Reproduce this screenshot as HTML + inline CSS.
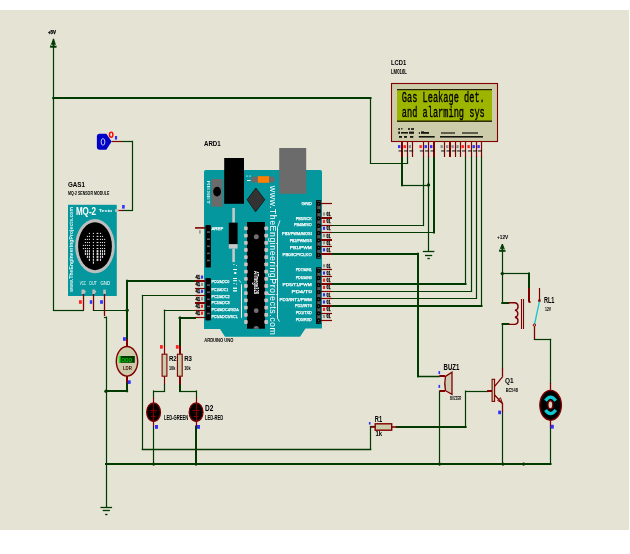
<!DOCTYPE html>
<html><head><meta charset="utf-8"><style>
html,body{margin:0;padding:0;background:#fff;width:630px;height:554px;overflow:hidden}
svg{position:absolute;left:0;top:0;display:block;will-change:transform}
svg{font-family:"Liberation Sans",sans-serif}
</style></head><body>
<svg width="630" height="554" viewBox="0 0 630 554">
<defs><filter id="sh" x="0" y="0" width="630" height="554" filterUnits="userSpaceOnUse" color-interpolation-filters="sRGB">
<feGaussianBlur in="SourceGraphic" stdDeviation="0.7" result="b"/>
<feComposite in="SourceGraphic" in2="b" operator="arithmetic" k1="0" k2="1.5" k3="-0.5" k4="0"/>
</filter></defs>
<g filter="url(#sh)">
<rect x="0" y="10" width="629" height="520" fill="#E4E3D4" />
<line x1="53.5" y1="48" x2="53.5" y2="310" stroke="#003A00" stroke-width="1.2" stroke-linecap="square"/>
<line x1="53.5" y1="310.5" x2="83.4" y2="310.5" stroke="#003A00" stroke-width="1.2" stroke-linecap="square"/>
<line x1="53.5" y1="98.0" x2="370.5" y2="98.0" stroke="#003A00" stroke-width="2.0" stroke-linecap="square"/>
<line x1="370.5" y1="97.8" x2="370.5" y2="163.3" stroke="#003A00" stroke-width="1.2" stroke-linecap="square"/>
<line x1="370.5" y1="163.5" x2="407.5" y2="163.5" stroke="#003A00" stroke-width="1.2" stroke-linecap="square"/>
<line x1="407.5" y1="163.3" x2="407.5" y2="157" stroke="#003A00" stroke-width="1.2" stroke-linecap="square"/>
<line x1="402.0" y1="157" x2="402.0" y2="185.3" stroke="#003A00" stroke-width="2.0" stroke-linecap="square"/>
<line x1="402" y1="185.5" x2="428.6" y2="185.5" stroke="#003A00" stroke-width="1.2" stroke-linecap="square"/>
<line x1="428.5" y1="157" x2="428.5" y2="251" stroke="#003A00" stroke-width="1.2" stroke-linecap="square"/>
<line x1="423.5" y1="157" x2="423.5" y2="225.5" stroke="#003A00" stroke-width="1.2" stroke-linecap="square"/>
<line x1="423.4" y1="225.5" x2="332" y2="225.5" stroke="#003A00" stroke-width="1.2" stroke-linecap="square"/>
<line x1="434.0" y1="157" x2="434.0" y2="232.5" stroke="#003A00" stroke-width="2.0" stroke-linecap="square"/>
<line x1="433.9" y1="232.5" x2="332" y2="232.5" stroke="#003A00" stroke-width="1.2" stroke-linecap="square"/>
<line x1="465.5" y1="157" x2="465.5" y2="283.8" stroke="#003A00" stroke-width="1.2" stroke-linecap="square"/>
<line x1="465.5" y1="284.0" x2="332" y2="284.0" stroke="#003A00" stroke-width="2.0" stroke-linecap="square"/>
<line x1="471.5" y1="157" x2="471.5" y2="291.3" stroke="#003A00" stroke-width="1.2" stroke-linecap="square"/>
<line x1="471.5" y1="291.5" x2="332" y2="291.5" stroke="#003A00" stroke-width="1.2" stroke-linecap="square"/>
<line x1="476.5" y1="157" x2="476.5" y2="298.4" stroke="#003A00" stroke-width="1.2" stroke-linecap="square"/>
<line x1="476.4" y1="298.5" x2="332" y2="298.5" stroke="#003A00" stroke-width="1.2" stroke-linecap="square"/>
<line x1="481.5" y1="157" x2="481.5" y2="305.9" stroke="#003A00" stroke-width="1.2" stroke-linecap="square"/>
<line x1="481.5" y1="306.0" x2="332" y2="306.0" stroke="#003A00" stroke-width="2.0" stroke-linecap="square"/>
<line x1="332" y1="254.0" x2="417.9" y2="254.0" stroke="#003A00" stroke-width="2.0" stroke-linecap="square"/>
<line x1="418.0" y1="253.8" x2="418.0" y2="376.2" stroke="#003A00" stroke-width="2.0" stroke-linecap="square"/>
<line x1="417.9" y1="376.5" x2="439" y2="376.5" stroke="#003A00" stroke-width="1.5" stroke-linecap="square"/>
<line x1="195" y1="281.0" x2="127.1" y2="281.0" stroke="#003A00" stroke-width="2.0" stroke-linecap="square"/>
<line x1="127.0" y1="280.7" x2="127.0" y2="339" stroke="#003A00" stroke-width="2.0" stroke-linecap="square"/>
<line x1="93.4" y1="310.5" x2="127.1" y2="310.5" stroke="#003A00" stroke-width="1.2" stroke-linecap="square"/>
<line x1="195" y1="295.5" x2="142.5" y2="295.5" stroke="#003A00" stroke-width="1.2" stroke-linecap="square"/>
<line x1="142.5" y1="295.5" x2="142.5" y2="449" stroke="#003A00" stroke-width="1.2" stroke-linecap="square"/>
<line x1="142.5" y1="449.5" x2="370.5" y2="449.5" stroke="#003A00" stroke-width="1.6" stroke-linecap="square"/>
<line x1="370.5" y1="449" x2="370.5" y2="426.8" stroke="#003A00" stroke-width="1.2" stroke-linecap="square"/>
<line x1="370.5" y1="426.5" x2="375" y2="426.5" stroke="#003A00" stroke-width="1.2" stroke-linecap="square"/>
<line x1="195" y1="310.5" x2="164.4" y2="310.5" stroke="#003A00" stroke-width="1.2" stroke-linecap="square"/>
<line x1="164.5" y1="310.2" x2="164.5" y2="346" stroke="#003A00" stroke-width="1.2" stroke-linecap="square"/>
<line x1="195" y1="318.0" x2="179.6" y2="318.0" stroke="#003A00" stroke-width="2.0" stroke-linecap="square"/>
<line x1="180.0" y1="317.6" x2="180.0" y2="346" stroke="#003A00" stroke-width="2.0" stroke-linecap="square"/>
<line x1="164.5" y1="384.4" x2="164.5" y2="391" stroke="#003A00" stroke-width="1.2" stroke-linecap="square"/>
<line x1="164.5" y1="391.5" x2="153.6" y2="391.5" stroke="#003A00" stroke-width="1.2" stroke-linecap="square"/>
<line x1="153.5" y1="391" x2="153.5" y2="397.8" stroke="#003A00" stroke-width="1.2" stroke-linecap="square"/>
<line x1="180.0" y1="384.4" x2="180.0" y2="391" stroke="#003A00" stroke-width="2.0" stroke-linecap="square"/>
<line x1="179.8" y1="391.5" x2="196.1" y2="391.5" stroke="#003A00" stroke-width="1.2" stroke-linecap="square"/>
<line x1="196.5" y1="391" x2="196.5" y2="397.8" stroke="#003A00" stroke-width="1.2" stroke-linecap="square"/>
<line x1="153.5" y1="426.6" x2="153.5" y2="464" stroke="#003A00" stroke-width="1.2" stroke-linecap="square"/>
<line x1="196.0" y1="426.6" x2="196.0" y2="464" stroke="#003A00" stroke-width="2.0" stroke-linecap="square"/>
<line x1="106" y1="464.0" x2="550.5" y2="464.0" stroke="#003A00" stroke-width="2.0" stroke-linecap="square"/>
<line x1="550.5" y1="464" x2="550.5" y2="427.7" stroke="#003A00" stroke-width="1.2" stroke-linecap="square"/>
<line x1="104.5" y1="317.5" x2="106.2" y2="317.5" stroke="#003A00" stroke-width="1.2" stroke-linecap="square"/>
<line x1="106.5" y1="317.2" x2="106.5" y2="507" stroke="#003A00" stroke-width="1.2" stroke-linecap="square"/>
<line x1="127.0" y1="382.7" x2="127.0" y2="391.3" stroke="#003A00" stroke-width="2.0" stroke-linecap="square"/>
<line x1="127.1" y1="391.0" x2="106.2" y2="391.0" stroke="#003A00" stroke-width="2.0" stroke-linecap="square"/>
<line x1="439.5" y1="391.1" x2="439.5" y2="464" stroke="#003A00" stroke-width="1.2" stroke-linecap="square"/>
<line x1="396.8" y1="427.0" x2="465.6" y2="427.0" stroke="#003A00" stroke-width="2.0" stroke-linecap="square"/>
<line x1="465.5" y1="426.8" x2="465.5" y2="391.1" stroke="#003A00" stroke-width="1.2" stroke-linecap="square"/>
<line x1="465.6" y1="391.5" x2="487.8" y2="391.5" stroke="#003A00" stroke-width="1.2" stroke-linecap="square"/>
<line x1="502.5" y1="412.1" x2="502.5" y2="464" stroke="#003A00" stroke-width="1.2" stroke-linecap="square"/>
<line x1="502.5" y1="367.9" x2="502.5" y2="324.4" stroke="#003A00" stroke-width="1.2" stroke-linecap="square"/>
<line x1="502.6" y1="324.0" x2="508.3" y2="324.0" stroke="#003A00" stroke-width="2.0" stroke-linecap="square"/>
<line x1="502.5" y1="251.5" x2="502.5" y2="302.8" stroke="#003A00" stroke-width="1.2" stroke-linecap="square"/>
<line x1="502.3" y1="303.0" x2="508.3" y2="303.0" stroke="#003A00" stroke-width="2.0" stroke-linecap="square"/>
<line x1="502.3" y1="273.5" x2="529" y2="273.5" stroke="#003A00" stroke-width="1.2" stroke-linecap="square"/>
<line x1="529.0" y1="273.6" x2="529.0" y2="288" stroke="#003A00" stroke-width="2.0" stroke-linecap="square"/>
<line x1="534.4" y1="339.5" x2="550.6" y2="339.5" stroke="#003A00" stroke-width="1.2" stroke-linecap="square"/>
<line x1="550.5" y1="339.4" x2="550.5" y2="383" stroke="#003A00" stroke-width="1.2" stroke-linecap="square"/>
<line x1="122" y1="141.5" x2="132.3" y2="141.5" stroke="#003A00" stroke-width="1.2" stroke-linecap="square"/>
<line x1="132.5" y1="141.4" x2="132.5" y2="210.4" stroke="#003A00" stroke-width="1.2" stroke-linecap="square"/>
<line x1="132.3" y1="210.5" x2="123" y2="210.5" stroke="#003A00" stroke-width="1.2" stroke-linecap="square"/>
<circle cx="428.5" cy="185" r="1.7" fill="#003A00"/>
<circle cx="127.1" cy="310.3" r="1.7" fill="#003A00"/>
<circle cx="502.3" cy="273.6" r="1.7" fill="#003A00"/>
<circle cx="106" cy="391.3" r="1.7" fill="#003A00"/>
<rect x="152.79999999999998" y="462.5" width="1.6" height="3.2" fill="#003A00" />
<rect x="195.2" y="462.5" width="1.6" height="3.2" fill="#003A00" />
<rect x="438.8" y="462.5" width="1.6" height="3.2" fill="#003A00" />
<rect x="502.09999999999997" y="462.5" width="1.6" height="3.2" fill="#003A00" />
<rect x="522.8000000000001" y="462.5" width="1.6" height="3.2" fill="#003A00" />
<rect x="52.5" y="97" width="1.5" height="2.2" fill="#003A00" />
<path d="M53.5,38.9 L56.3,47.2 H50.3 Z" fill="#003A00" stroke="#003A00" stroke-width="0.9"/>
<rect x="51.2" y="44.6" width="1.3" height="1.3" fill="#E4E3D4" />
<rect x="54.5" y="44.6" width="1.3" height="1.3" fill="#E4E3D4" />
<line x1="53.5" y1="38.9" x2="53.5" y2="48" stroke="#003A00" stroke-width="1.2" stroke-linecap="butt"/>
<text x="47.9" y="33.8" font-size="4.6" fill="#000" textLength="8.1" lengthAdjust="spacingAndGlyphs" font-weight="bold" stroke="#000" stroke-width="0.25">+5V</text>
<path d="M502.3,244 L505.3,251.3 H499.3 Z" fill="#003A00" stroke="#003A00" stroke-width="0.9"/>
<rect x="500.2" y="248.8" width="1.3" height="1.3" fill="#E4E3D4" />
<rect x="503.3" y="248.8" width="1.3" height="1.3" fill="#E4E3D4" />
<line x1="502.5" y1="244" x2="502.5" y2="251.5" stroke="#003A00" stroke-width="1.2" stroke-linecap="butt"/>
<text x="497" y="238.8" font-size="6" fill="#000" textLength="11.3" lengthAdjust="spacingAndGlyphs" font-weight="bold" >+12V</text>
<line x1="422.8" y1="251.5" x2="434.40000000000003" y2="251.5" stroke="#003A00" stroke-width="1.3" stroke-linecap="butt"/>
<line x1="425.0" y1="255.5" x2="432.20000000000005" y2="255.5" stroke="#003A00" stroke-width="1.3" stroke-linecap="butt"/>
<line x1="427.40000000000003" y1="258.5" x2="429.8" y2="258.5" stroke="#003A00" stroke-width="1.3" stroke-linecap="butt"/>
<line x1="100.5" y1="507.5" x2="112.1" y2="507.5" stroke="#003A00" stroke-width="1.3" stroke-linecap="butt"/>
<line x1="102.7" y1="510.5" x2="109.89999999999999" y2="510.5" stroke="#003A00" stroke-width="1.3" stroke-linecap="butt"/>
<line x1="105.1" y1="514.5" x2="107.5" y2="514.5" stroke="#003A00" stroke-width="1.3" stroke-linecap="butt"/>
<text x="391" y="65.2" font-size="8" fill="#000" textLength="15.3" lengthAdjust="spacingAndGlyphs" font-weight="bold" >LCD1</text>
<text x="391" y="74" font-size="6.5" fill="#000" textLength="15.9" lengthAdjust="spacingAndGlyphs" font-weight="bold" >LM016L</text>
<rect x="391.5" y="83.5" width="106" height="58" fill="#CDCCAA" stroke="#800000" stroke-width="1.1" />
<rect x="397" y="89" width="95" height="32.5" fill="#9EB500" />
<rect x="397" y="89" width="95" height="1.2" fill="#202000" />
<rect x="397" y="120.5" width="95" height="1.4" fill="#202000" />
<g style="font-family:'Liberation Mono',monospace;font-size:14px;font-weight:normal" fill="#000" stroke="#000" stroke-width="0.35">
<text x="401.8" y="101.8" textLength="83" lengthAdjust="spacingAndGlyphs">Gas Leakage det.</text>
<text x="401.8" y="116.8" textLength="83" lengthAdjust="spacingAndGlyphs">and alarming sys</text>
</g>
<g fill="#000" fill-opacity="0.9">
<rect x="398.2" y="128.2" width="1.8" height="1.6" fill="#000" />
<rect x="401" y="128.2" width="1.5" height="1.2" fill="#000" />
<rect x="408" y="128.2" width="2" height="1.6" fill="#000" />
<rect x="411" y="128.2" width="3" height="1.6" fill="#000" />
<rect x="398.2" y="131.6" width="1.8" height="2.2" fill="#000" />
<rect x="401" y="132" width="7" height="1.6" fill="#000" />
<rect x="409" y="131.6" width="5" height="2.2" fill="#000" />
<rect x="418.8" y="132.2" width="1.2" height="1.6" fill="#000" />
<rect x="421" y="131.4" width="3" height="2.4" fill="#000" />
<rect x="424" y="132" width="5" height="1.8" fill="#000" />
<rect x="399" y="136" width="3" height="1.8" fill="#000" />
<rect x="404" y="136" width="3" height="1.8" fill="#000" />
<rect x="410" y="136" width="3.3" height="1.8" fill="#000" />
<rect x="418.8" y="136" width="15.9" height="1.6" fill="#000" />
<rect x="441" y="132.4" width="14" height="1.2" fill="#000" />
<rect x="462" y="132.4" width="16" height="1.2" fill="#000" />
<rect x="440" y="136" width="43" height="1.6" fill="#000" />
</g>
<line x1="402.0" y1="142" x2="402.0" y2="157" stroke="#800000" stroke-width="2" stroke-linecap="butt"/>
<line x1="407.5" y1="142" x2="407.5" y2="157" stroke="#800000" stroke-width="1.2" stroke-linecap="butt"/>
<line x1="412.5" y1="142" x2="412.5" y2="157" stroke="#800000" stroke-width="1.2" stroke-linecap="butt"/>
<line x1="423.5" y1="142" x2="423.5" y2="157" stroke="#800000" stroke-width="1.2" stroke-linecap="butt"/>
<line x1="428.5" y1="142" x2="428.5" y2="157" stroke="#800000" stroke-width="1.2" stroke-linecap="butt"/>
<line x1="434.0" y1="142" x2="434.0" y2="157" stroke="#800000" stroke-width="2" stroke-linecap="butt"/>
<line x1="444.5" y1="142" x2="444.5" y2="157" stroke="#800000" stroke-width="1.2" stroke-linecap="butt"/>
<line x1="450.0" y1="142" x2="450.0" y2="157" stroke="#800000" stroke-width="2" stroke-linecap="butt"/>
<line x1="455.5" y1="142" x2="455.5" y2="157" stroke="#800000" stroke-width="1.2" stroke-linecap="butt"/>
<line x1="460.5" y1="142" x2="460.5" y2="157" stroke="#800000" stroke-width="1.2" stroke-linecap="butt"/>
<line x1="465.5" y1="142" x2="465.5" y2="157" stroke="#800000" stroke-width="1.2" stroke-linecap="butt"/>
<line x1="471.5" y1="142" x2="471.5" y2="157" stroke="#800000" stroke-width="1.2" stroke-linecap="butt"/>
<line x1="476.5" y1="142" x2="476.5" y2="157" stroke="#800000" stroke-width="1.2" stroke-linecap="butt"/>
<line x1="481.5" y1="142" x2="481.5" y2="157" stroke="#800000" stroke-width="1.2" stroke-linecap="butt"/>
<rect x="398.0" y="145.1" width="2.4" height="3" fill="#3030FF" />
<rect x="403.5" y="145.1" width="2.4" height="3" fill="#FF2020" />
<rect x="408.6" y="145.1" width="2.4" height="3" fill="#909090" />
<rect x="419.4" y="145.1" width="2.4" height="3" fill="#FF2020" />
<rect x="424.5" y="145.1" width="2.4" height="3" fill="#3030FF" />
<rect x="430.0" y="145.1" width="2.4" height="3" fill="#3030FF" />
<rect x="440.5" y="145.1" width="2.4" height="3" fill="#909090" />
<rect x="446.0" y="145.1" width="2.4" height="3" fill="#909090" />
<rect x="451.4" y="145.1" width="2.4" height="3" fill="#909090" />
<rect x="456.3" y="145.1" width="2.4" height="3" fill="#909090" />
<rect x="461.5" y="145.1" width="2.4" height="3" fill="#FF2020" />
<rect x="467.4" y="145.1" width="2.4" height="3" fill="#FF2020" />
<rect x="472.5" y="145.1" width="2.4" height="3" fill="#3030FF" />
<rect x="477.4" y="145.1" width="2.4" height="3" fill="#3030FF" />
<rect x="398.5" y="150.5" width="4" height="0.9" fill="#000" />
<rect x="404.0" y="150.5" width="4" height="0.9" fill="#000" />
<rect x="409.1" y="150.5" width="4" height="0.9" fill="#000" />
<rect x="419.9" y="150.5" width="4" height="0.9" fill="#000" />
<rect x="425.0" y="150.5" width="4" height="0.9" fill="#000" />
<rect x="430.5" y="150.5" width="4" height="0.9" fill="#000" />
<rect x="441.0" y="150.5" width="4" height="0.9" fill="#000" />
<rect x="446.5" y="150.5" width="4" height="0.9" fill="#000" />
<rect x="451.9" y="150.5" width="4" height="0.9" fill="#000" />
<rect x="456.8" y="150.5" width="4" height="0.9" fill="#000" />
<rect x="462.0" y="150.5" width="4" height="0.9" fill="#000" />
<rect x="467.9" y="150.5" width="4" height="0.9" fill="#000" />
<rect x="473.0" y="150.5" width="4" height="0.9" fill="#000" />
<rect x="477.9" y="150.5" width="4" height="0.9" fill="#000" />
<text x="204" y="146" font-size="7.6" fill="#000" textLength="16.7" lengthAdjust="spacingAndGlyphs" font-weight="bold" >ARD1</text>
<path d="M205.8,170 H320.2 Q322,170 322,171.8 V328.6 H305.5 L300,336.8 H225 L220,329 H204 V171.8 Q204,170 205.8,170 Z" fill="#04989E"/>
<rect x="279.2" y="148" width="27" height="45.8" fill="#6B6B6B" />
<rect x="224.2" y="158" width="19.8" height="45.8" fill="#000" />
<rect x="211.3" y="179" width="11.4" height="27.7" fill="#6B6B6B" />
<ellipse cx="217.1" cy="191.6" rx="3.9" ry="4.9" fill="#000"/>
<path d="M252.5,176.4 H273.3 L274.8,177.9 V181.1 L273.3,182.6 H252.5 L251,181.1 V177.9 Z" fill="#6B6B6B"/>
<rect x="257.9" y="176.2" width="11.1" height="6.6" fill="#FF8000" />
<path d="M255.9,188 L264.8,199.7 L255.6,211.8 L247.1,199.7 Z" fill="#333" stroke="#111" stroke-width="0.8"/>
<rect x="232.3" y="208" width="2.6" height="14.7" fill="#C8C8C8" />
<rect x="228.8" y="222.7" width="8.8" height="21.5" fill="#000" />
<rect x="228.8" y="244.2" width="8.8" height="4.4" fill="#C8C8C8" />
<rect x="232.3" y="248.6" width="2.6" height="13.5" fill="#C8C8C8" />
<rect x="247" y="222" width="18" height="106.7" fill="#000" />
<rect x="244.1" y="226.5" width="3.6" height="3.8" fill="#C4C4C4" rx="0.8"/>
<rect x="264.3" y="226.5" width="3.8" height="3.8" fill="#C4C4C4" rx="0.8"/>
<rect x="244.1" y="233.7" width="3.6" height="3.8" fill="#C4C4C4" rx="0.8"/>
<rect x="264.3" y="233.7" width="3.8" height="3.8" fill="#C4C4C4" rx="0.8"/>
<rect x="244.1" y="240.9" width="3.6" height="3.8" fill="#C4C4C4" rx="0.8"/>
<rect x="264.3" y="240.9" width="3.8" height="3.8" fill="#C4C4C4" rx="0.8"/>
<rect x="244.1" y="248.1" width="3.6" height="3.8" fill="#C4C4C4" rx="0.8"/>
<rect x="264.3" y="248.1" width="3.8" height="3.8" fill="#C4C4C4" rx="0.8"/>
<rect x="244.1" y="255.29999999999998" width="3.6" height="3.8" fill="#C4C4C4" rx="0.8"/>
<rect x="264.3" y="255.29999999999998" width="3.8" height="3.8" fill="#C4C4C4" rx="0.8"/>
<rect x="244.1" y="262.5" width="3.6" height="3.8" fill="#C4C4C4" rx="0.8"/>
<rect x="264.3" y="262.5" width="3.8" height="3.8" fill="#C4C4C4" rx="0.8"/>
<rect x="244.1" y="269.70000000000005" width="3.6" height="3.8" fill="#C4C4C4" rx="0.8"/>
<rect x="264.3" y="269.70000000000005" width="3.8" height="3.8" fill="#C4C4C4" rx="0.8"/>
<rect x="244.1" y="276.90000000000003" width="3.6" height="3.8" fill="#C4C4C4" rx="0.8"/>
<rect x="264.3" y="276.90000000000003" width="3.8" height="3.8" fill="#C4C4C4" rx="0.8"/>
<rect x="244.1" y="284.1" width="3.6" height="3.8" fill="#C4C4C4" rx="0.8"/>
<rect x="264.3" y="284.1" width="3.8" height="3.8" fill="#C4C4C4" rx="0.8"/>
<rect x="244.1" y="291.3" width="3.6" height="3.8" fill="#C4C4C4" rx="0.8"/>
<rect x="264.3" y="291.3" width="3.8" height="3.8" fill="#C4C4C4" rx="0.8"/>
<rect x="244.1" y="298.5" width="3.6" height="3.8" fill="#C4C4C4" rx="0.8"/>
<rect x="264.3" y="298.5" width="3.8" height="3.8" fill="#C4C4C4" rx="0.8"/>
<rect x="244.1" y="305.70000000000005" width="3.6" height="3.8" fill="#C4C4C4" rx="0.8"/>
<rect x="264.3" y="305.70000000000005" width="3.8" height="3.8" fill="#C4C4C4" rx="0.8"/>
<rect x="244.1" y="312.90000000000003" width="3.6" height="3.8" fill="#C4C4C4" rx="0.8"/>
<rect x="264.3" y="312.90000000000003" width="3.8" height="3.8" fill="#C4C4C4" rx="0.8"/>
<rect x="244.1" y="320.1" width="3.6" height="3.8" fill="#C4C4C4" rx="0.8"/>
<rect x="264.3" y="320.1" width="3.8" height="3.8" fill="#C4C4C4" rx="0.8"/>
<circle cx="256.3" cy="236.8" r="2.5" fill="#707070"/>
<circle cx="256.2" cy="310.7" r="2.4" fill="#707070"/>
<path d="M253.6,328.7 A2.6,2.6 0 0 1 258.8,328.7 Z" fill="#707070"/>
<rect x="316.1" y="200.1" width="5" height="58.599999999999994" fill="#000" />
<rect x="317.3" y="200.9" width="3.3" height="56.99999999999999" fill="#585858" />
<circle cx="318.70000000000005" cy="203.76" r="1.45" fill="none" stroke="#000" stroke-width="1.5"/>
<circle cx="318.70000000000005" cy="211.09" r="1.45" fill="none" stroke="#000" stroke-width="1.5"/>
<circle cx="318.70000000000005" cy="218.41" r="1.45" fill="none" stroke="#000" stroke-width="1.5"/>
<circle cx="318.70000000000005" cy="225.74" r="1.45" fill="none" stroke="#000" stroke-width="1.5"/>
<circle cx="318.70000000000005" cy="233.06" r="1.45" fill="none" stroke="#000" stroke-width="1.5"/>
<circle cx="318.70000000000005" cy="240.39" r="1.45" fill="none" stroke="#000" stroke-width="1.5"/>
<circle cx="318.70000000000005" cy="247.71" r="1.45" fill="none" stroke="#000" stroke-width="1.5"/>
<circle cx="318.70000000000005" cy="255.04" r="1.45" fill="none" stroke="#000" stroke-width="1.5"/>
<rect x="316.1" y="267.3" width="5" height="56.69999999999999" fill="#000" />
<rect x="317.3" y="268.1" width="3.3" height="55.09999999999999" fill="#585858" />
<circle cx="318.70000000000005" cy="270.84" r="1.45" fill="none" stroke="#000" stroke-width="1.5"/>
<circle cx="318.70000000000005" cy="277.93" r="1.45" fill="none" stroke="#000" stroke-width="1.5"/>
<circle cx="318.70000000000005" cy="285.02" r="1.45" fill="none" stroke="#000" stroke-width="1.5"/>
<circle cx="318.70000000000005" cy="292.11" r="1.45" fill="none" stroke="#000" stroke-width="1.5"/>
<circle cx="318.70000000000005" cy="299.19" r="1.45" fill="none" stroke="#000" stroke-width="1.5"/>
<circle cx="318.70000000000005" cy="306.28" r="1.45" fill="none" stroke="#000" stroke-width="1.5"/>
<circle cx="318.70000000000005" cy="313.37" r="1.45" fill="none" stroke="#000" stroke-width="1.5"/>
<circle cx="318.70000000000005" cy="320.46" r="1.45" fill="none" stroke="#000" stroke-width="1.5"/>
<rect x="205.4" y="225" width="5.5" height="42.60000000000002" fill="#000" rx="1"/>
<rect x="207.0" y="231.29999999999998" width="2.9" height="1.6" fill="#606060" />
<rect x="207.0" y="238.4" width="2.9" height="1.6" fill="#606060" />
<rect x="207.0" y="245.5" width="2.9" height="1.6" fill="#606060" />
<rect x="207.0" y="252.6" width="2.9" height="1.6" fill="#606060" />
<rect x="207.0" y="259.7" width="2.9" height="1.6" fill="#606060" />
<rect x="205.4" y="278" width="5.5" height="42.60000000000002" fill="#000" rx="1"/>
<rect x="207.0" y="284.3" width="2.9" height="1.6" fill="#606060" />
<rect x="207.0" y="291.4" width="2.9" height="1.6" fill="#606060" />
<rect x="207.0" y="298.5" width="2.9" height="1.6" fill="#606060" />
<rect x="207.0" y="305.6" width="2.9" height="1.6" fill="#606060" />
<rect x="207.0" y="312.7" width="2.9" height="1.6" fill="#606060" />
<line x1="321.2" y1="203.5" x2="332" y2="203.5" stroke="#800000" stroke-width="1.2" stroke-linecap="butt"/>
<line x1="321.2" y1="218.0" x2="332" y2="218.0" stroke="#800000" stroke-width="2" stroke-linecap="butt"/>
<line x1="321.2" y1="225.5" x2="332" y2="225.5" stroke="#800000" stroke-width="1.2" stroke-linecap="butt"/>
<line x1="321.2" y1="232.5" x2="332" y2="232.5" stroke="#800000" stroke-width="1.2" stroke-linecap="butt"/>
<line x1="321.2" y1="240.0" x2="332" y2="240.0" stroke="#800000" stroke-width="2" stroke-linecap="butt"/>
<line x1="321.2" y1="246.5" x2="332" y2="246.5" stroke="#800000" stroke-width="1.2" stroke-linecap="butt"/>
<line x1="321.2" y1="254.0" x2="332" y2="254.0" stroke="#800000" stroke-width="2" stroke-linecap="butt"/>
<line x1="321.2" y1="269.5" x2="332" y2="269.5" stroke="#800000" stroke-width="1.2" stroke-linecap="butt"/>
<line x1="321.2" y1="276.5" x2="332" y2="276.5" stroke="#800000" stroke-width="1.2" stroke-linecap="butt"/>
<line x1="321.2" y1="284.0" x2="332" y2="284.0" stroke="#800000" stroke-width="2" stroke-linecap="butt"/>
<line x1="321.2" y1="291.5" x2="332" y2="291.5" stroke="#800000" stroke-width="1.2" stroke-linecap="butt"/>
<line x1="321.2" y1="298.5" x2="332" y2="298.5" stroke="#800000" stroke-width="1.2" stroke-linecap="butt"/>
<line x1="321.2" y1="306.0" x2="332" y2="306.0" stroke="#800000" stroke-width="2" stroke-linecap="butt"/>
<line x1="321.2" y1="313.5" x2="332" y2="313.5" stroke="#800000" stroke-width="1.2" stroke-linecap="butt"/>
<line x1="321.2" y1="320.5" x2="332" y2="320.5" stroke="#800000" stroke-width="1.2" stroke-linecap="butt"/>
<line x1="195" y1="227.9" x2="205.4" y2="227.9" stroke="#800000" stroke-width="1.6" stroke-linecap="butt"/>
<rect x="199.15" y="230.2" width="1.5" height="3.4" fill="#909090" />
<line x1="195" y1="281.0" x2="205.4" y2="281.0" stroke="#800000" stroke-width="2" stroke-linecap="butt"/>
<line x1="195" y1="288.5" x2="205.4" y2="288.5" stroke="#800000" stroke-width="1.2" stroke-linecap="butt"/>
<line x1="195" y1="295.5" x2="205.4" y2="295.5" stroke="#800000" stroke-width="1.2" stroke-linecap="butt"/>
<line x1="195" y1="303.0" x2="205.4" y2="303.0" stroke="#800000" stroke-width="2" stroke-linecap="butt"/>
<line x1="195" y1="310.5" x2="205.4" y2="310.5" stroke="#800000" stroke-width="1.2" stroke-linecap="butt"/>
<line x1="195" y1="317.5" x2="205.4" y2="317.5" stroke="#800000" stroke-width="1.2" stroke-linecap="butt"/>
<rect x="322.9" y="212.4" width="2.2" height="3.2" fill="#909090" />
<text x="326.6" y="215.9" font-size="5.2" fill="#000" textLength="4" lengthAdjust="spacingAndGlyphs" font-weight="bold" stroke="#000" stroke-width="0.3">01</text>
<rect x="322.9" y="219.8" width="2.2" height="3.2" fill="#FF2020" />
<text x="326.6" y="223.3" font-size="5.2" fill="#000" textLength="4" lengthAdjust="spacingAndGlyphs" font-weight="bold" stroke="#000" stroke-width="0.3">01</text>
<rect x="322.9" y="226.7" width="2.2" height="3.2" fill="#3030FF" />
<text x="326.6" y="230.20000000000002" font-size="5.2" fill="#000" textLength="4" lengthAdjust="spacingAndGlyphs" font-weight="bold" stroke="#000" stroke-width="0.3">01</text>
<rect x="322.9" y="234.0" width="2.2" height="3.2" fill="#909090" />
<text x="326.6" y="237.5" font-size="5.2" fill="#000" textLength="4" lengthAdjust="spacingAndGlyphs" font-weight="bold" stroke="#000" stroke-width="0.3">01</text>
<rect x="322.9" y="241.2" width="2.2" height="3.2" fill="#909090" />
<text x="326.6" y="244.70000000000002" font-size="5.2" fill="#000" textLength="4" lengthAdjust="spacingAndGlyphs" font-weight="bold" stroke="#000" stroke-width="0.3">01</text>
<rect x="322.9" y="248.2" width="2.2" height="3.2" fill="#3030FF" />
<text x="326.6" y="251.70000000000002" font-size="5.2" fill="#000" textLength="4" lengthAdjust="spacingAndGlyphs" font-weight="bold" stroke="#000" stroke-width="0.3">01</text>
<rect x="322.9" y="264.2" width="2.2" height="3.2" fill="#909090" />
<text x="326.6" y="267.7" font-size="5.2" fill="#000" textLength="4" lengthAdjust="spacingAndGlyphs" font-weight="bold" stroke="#000" stroke-width="0.3">01</text>
<rect x="322.9" y="271.4" width="2.2" height="3.2" fill="#3030FF" />
<text x="326.6" y="274.9" font-size="5.2" fill="#000" textLength="4" lengthAdjust="spacingAndGlyphs" font-weight="bold" stroke="#000" stroke-width="0.3">01</text>
<rect x="322.9" y="278.6" width="2.2" height="3.2" fill="#FF2020" />
<text x="326.6" y="282.09999999999997" font-size="5.2" fill="#000" textLength="4" lengthAdjust="spacingAndGlyphs" font-weight="bold" stroke="#000" stroke-width="0.3">01</text>
<rect x="322.9" y="285.8" width="2.2" height="3.2" fill="#FF2020" />
<text x="326.6" y="289.29999999999995" font-size="5.2" fill="#000" textLength="4" lengthAdjust="spacingAndGlyphs" font-weight="bold" stroke="#000" stroke-width="0.3">01</text>
<rect x="322.9" y="293.2" width="2.2" height="3.2" fill="#3030FF" />
<text x="326.6" y="296.7" font-size="5.2" fill="#000" textLength="4" lengthAdjust="spacingAndGlyphs" font-weight="bold" stroke="#000" stroke-width="0.3">01</text>
<rect x="322.9" y="300.4" width="2.2" height="3.2" fill="#3030FF" />
<text x="326.6" y="303.9" font-size="5.2" fill="#000" textLength="4" lengthAdjust="spacingAndGlyphs" font-weight="bold" stroke="#000" stroke-width="0.3">01</text>
<rect x="322.9" y="307.8" width="2.2" height="3.2" fill="#FF2020" />
<text x="326.6" y="311.29999999999995" font-size="5.2" fill="#000" textLength="4" lengthAdjust="spacingAndGlyphs" font-weight="bold" stroke="#000" stroke-width="0.3">01</text>
<rect x="322.9" y="314.9" width="2.2" height="3.2" fill="#909090" />
<text x="326.6" y="318.4" font-size="5.2" fill="#000" textLength="4" lengthAdjust="spacingAndGlyphs" font-weight="bold" stroke="#000" stroke-width="0.3">01</text>
<rect x="200.9" y="275.5" width="2.2" height="3.2" fill="#3030FF" />
<text x="195.4" y="279.0" font-size="5.2" fill="#000" textLength="4.8" lengthAdjust="spacingAndGlyphs" font-weight="bold" stroke="#000" stroke-width="0.3">41</text>
<rect x="200.9" y="282.8" width="2.2" height="3.2" fill="#909090" />
<text x="195.4" y="286.29999999999995" font-size="5.2" fill="#000" textLength="4.8" lengthAdjust="spacingAndGlyphs" font-weight="bold" stroke="#000" stroke-width="0.3">41</text>
<rect x="200.9" y="289.7" width="2.2" height="3.2" fill="#3030FF" />
<text x="195.4" y="293.2" font-size="5.2" fill="#000" textLength="4.8" lengthAdjust="spacingAndGlyphs" font-weight="bold" stroke="#000" stroke-width="0.3">41</text>
<rect x="200.9" y="297.2" width="2.2" height="3.2" fill="#909090" />
<text x="195.4" y="300.7" font-size="5.2" fill="#000" textLength="4.8" lengthAdjust="spacingAndGlyphs" font-weight="bold" stroke="#000" stroke-width="0.3">41</text>
<rect x="200.9" y="304.6" width="2.2" height="3.2" fill="#FF2020" />
<text x="195.4" y="308.09999999999997" font-size="5.2" fill="#000" textLength="4.8" lengthAdjust="spacingAndGlyphs" font-weight="bold" stroke="#000" stroke-width="0.3">41</text>
<rect x="200.9" y="311.6" width="2.2" height="3.2" fill="#FF2020" />
<text x="195.4" y="315.09999999999997" font-size="5.2" fill="#000" textLength="4.8" lengthAdjust="spacingAndGlyphs" font-weight="bold" stroke="#000" stroke-width="0.3">41</text>
<text x="0" y="0" font-size="8.8" fill="#FFF" textLength="149" lengthAdjust="spacing" transform="translate(269.8,185.8) rotate(90)">www.TheEngineeringProjects.com</text>
<g fill="#FFF">
<text x="301.6" y="205.3" font-size="4.4" fill="#FFFFFF" textLength="10.2" lengthAdjust="spacingAndGlyphs" stroke="#FFF" stroke-width="0.25">GND</text>
<text x="295.7" y="219.6" font-size="4.4" fill="#FFFFFF" textLength="16.1" lengthAdjust="spacingAndGlyphs" stroke="#FFF" stroke-width="0.25">PB5/SCK</text>
<text x="293.9" y="226.4" font-size="4.4" fill="#FFFFFF" textLength="17.9" lengthAdjust="spacingAndGlyphs" stroke="#FFF" stroke-width="0.25">PB4/MISO</text>
<text x="282" y="234.6" font-size="4.4" fill="#FFFFFF" textLength="29.8" lengthAdjust="spacingAndGlyphs" stroke="#FFF" stroke-width="0.25">PB3/PWM/MOSI</text>
<text x="289.7" y="241.6" font-size="4.4" fill="#FFFFFF" textLength="22.1" lengthAdjust="spacingAndGlyphs" stroke="#FFF" stroke-width="0.25">PB2/PWM/SS</text>
<text x="289.7" y="248.9" font-size="4.4" fill="#FFFFFF" textLength="22.1" lengthAdjust="spacingAndGlyphs" stroke="#FFF" stroke-width="0.25">PB1/PWM</text>
<text x="282.6" y="256" font-size="4.4" fill="#FFFFFF" textLength="29.2" lengthAdjust="spacingAndGlyphs" stroke="#FFF" stroke-width="0.25">PB0/ICP/CLKO</text>
<text x="295.7" y="271" font-size="4.4" fill="#FFFFFF" textLength="16.1" lengthAdjust="spacingAndGlyphs" stroke="#FFF" stroke-width="0.25">PD7/AIN1</text>
<text x="295.7" y="278.5" font-size="4.4" fill="#FFFFFF" textLength="16.1" lengthAdjust="spacingAndGlyphs" stroke="#FFF" stroke-width="0.25">PD6/AIN0</text>
<text x="282.6" y="285.6" font-size="4.4" fill="#FFFFFF" textLength="29.2" lengthAdjust="spacingAndGlyphs" stroke="#FFF" stroke-width="0.25">PD5/T1/PWM</text>
<text x="291.5" y="292.8" font-size="4.4" fill="#FFFFFF" textLength="20.3" lengthAdjust="spacingAndGlyphs" stroke="#FFF" stroke-width="0.25">PD4/T0</text>
<text x="279.6" y="300.6" font-size="4.4" fill="#FFFFFF" textLength="32.2" lengthAdjust="spacingAndGlyphs" stroke="#FFF" stroke-width="0.25">PD3/INT1/PWM</text>
<text x="295" y="306.5" font-size="4.4" fill="#FFFFFF" textLength="16.8" lengthAdjust="spacingAndGlyphs" stroke="#FFF" stroke-width="0.25">PD2/INT0</text>
<text x="295.7" y="313.6" font-size="4.4" fill="#FFFFFF" textLength="16.1" lengthAdjust="spacingAndGlyphs" stroke="#FFF" stroke-width="0.25">PD1/TXD</text>
<text x="295.7" y="320.8" font-size="4.4" fill="#FFFFFF" textLength="16.1" lengthAdjust="spacingAndGlyphs" stroke="#FFF" stroke-width="0.25">PD0/RXD</text>
<text x="211.4" y="229.6" font-size="4.4" fill="#FFFFFF" textLength="11.9" lengthAdjust="spacingAndGlyphs" stroke="#FFF" stroke-width="0.25">AREF</text>
<text x="211.4" y="283" font-size="4.4" fill="#FFFFFF" textLength="17.8" lengthAdjust="spacingAndGlyphs" stroke="#FFF" stroke-width="0.25">PC0/ADC0</text>
<text x="211.4" y="290.5" font-size="4.4" fill="#FFFFFF" textLength="16.8" lengthAdjust="spacingAndGlyphs" stroke="#FFF" stroke-width="0.25">PC1/ADC1</text>
<text x="211.4" y="297.9" font-size="4.4" fill="#FFFFFF" textLength="18.3" lengthAdjust="spacingAndGlyphs" stroke="#FFF" stroke-width="0.25">PC2/ADC2</text>
<text x="211.4" y="303.9" font-size="4.4" fill="#FFFFFF" textLength="18.3" lengthAdjust="spacingAndGlyphs" stroke="#FFF" stroke-width="0.25">PC3/ADC3</text>
<text x="211.4" y="311.3" font-size="4.4" fill="#FFFFFF" textLength="27.3" lengthAdjust="spacingAndGlyphs" stroke="#FFF" stroke-width="0.25">PC4/ADC4/SDA</text>
<text x="211.4" y="318.3" font-size="4.4" fill="#FFFFFF" textLength="26.3" lengthAdjust="spacingAndGlyphs" stroke="#FFF" stroke-width="0.25">PC5/ADC5/SCL</text>
</g>
<line x1="241.5" y1="284.4" x2="241.5" y2="317.7" stroke="#FFFFFF" stroke-width="1" stroke-linecap="butt"/>
<line x1="277.5" y1="227.7" x2="277.5" y2="318" stroke="#FFFFFF" stroke-width="1" stroke-linecap="butt"/>
<line x1="277.4" y1="227.7" x2="280" y2="220.5" stroke="#FFFFFF" stroke-width="0.8" stroke-linecap="butt"/>
<line x1="277.4" y1="318" x2="279.4" y2="321.6" stroke="#FFFFFF" stroke-width="0.8" stroke-linecap="butt"/>
<line x1="275.5" y1="279.5" x2="277.4" y2="279.5" stroke="#FFFFFF" stroke-width="0.8" stroke-linecap="butt"/>
<text x="0" y="0" font-size="4" fill="#FFF" textLength="24" lengthAdjust="spacingAndGlyphs" transform="translate(207,180.5) rotate(90)">RESET</text>
<rect x="233.4" y="264" width="1" height="1" fill="#FFF" />
<rect x="236" y="265" width="1" height="1" fill="#FFF" />
<rect x="233.2" y="269" width="3.8" height="1" fill="#FFF" />
<rect x="234.3" y="272" width="2" height="2" fill="#FFF" />
<rect x="233" y="278" width="4" height="1" fill="#FFF" />
<rect x="233" y="280.2" width="4" height="1" fill="#FFF" />
<rect x="233.5" y="283" width="1" height="1" fill="#FFF" />
<rect x="236" y="283.5" width="1" height="1" fill="#FFF" />
<rect x="233" y="287.6" width="4" height="1.3" fill="#FFF" />
<rect x="233" y="290.2" width="4" height="1.3" fill="#FFF" />
<line x1="239" y1="280.2" x2="241" y2="282.6" stroke="#FFFFFF" stroke-width="0.8" stroke-linecap="butt"/>
<text x="0" y="0" font-size="6.4" fill="#FFFFFF" textLength="23" lengthAdjust="spacingAndGlyphs" font-weight="bold" transform="translate(254,271) rotate(90)">ATmega328</text>
<rect x="246.5" y="175.5" width="1" height="1.2" fill="#FFF" />
<rect x="249.5" y="175.5" width="1" height="1.2" fill="#FFF" />
<rect x="247" y="180" width="3.5" height="1" fill="#FFF" />
<text x="204.3" y="342.3" font-size="5.5" fill="#000" textLength="29" lengthAdjust="spacingAndGlyphs" font-weight="bold" >ARDUINO UNO</text>
<text x="68" y="187" font-size="7.8" fill="#000" textLength="17" lengthAdjust="spacingAndGlyphs" font-weight="bold" >GAS1</text>
<text x="68" y="195.2" font-size="5.8" fill="#000" textLength="41.4" lengthAdjust="spacingAndGlyphs" font-weight="bold" >MQ-2 SENSOR MODULE</text>
<rect x="68" y="204.8" width="48.8" height="91.2" fill="#04989E" />
<ellipse cx="95" cy="246.2" rx="19.8" ry="27.1" fill="#BEBEBE"/>
<ellipse cx="95" cy="246.2" rx="16.9" ry="24" fill="#000"/>
<g fill="#E0E0E0">
<rect x="88.85" y="232.85" width="1.1" height="1.1"/>
<rect x="92.85" y="232.85" width="1.1" height="1.1"/>
<rect x="96.60" y="232.85" width="1.8" height="1.1"/>
<rect x="99.95" y="232.85" width="1.1" height="1.1"/>
<rect x="86.85" y="235.85" width="1.1" height="1.1"/>
<rect x="88.85" y="235.85" width="1.1" height="1.1"/>
<rect x="92.85" y="235.85" width="1.1" height="1.1"/>
<rect x="96.60" y="235.85" width="1.8" height="1.1"/>
<rect x="99.95" y="235.85" width="1.1" height="1.1"/>
<rect x="101.95" y="235.85" width="1.1" height="1.1"/>
<rect x="84.85" y="238.85" width="1.1" height="1.1"/>
<rect x="86.85" y="238.85" width="1.1" height="1.1"/>
<rect x="88.85" y="238.85" width="1.1" height="1.1"/>
<rect x="92.85" y="238.85" width="1.1" height="1.1"/>
<rect x="96.60" y="238.85" width="1.8" height="1.1"/>
<rect x="99.95" y="238.85" width="1.1" height="1.1"/>
<rect x="101.95" y="238.85" width="1.1" height="1.1"/>
<rect x="104.05" y="238.85" width="1.1" height="1.1"/>
<rect x="84.85" y="241.95" width="1.1" height="1.1"/>
<rect x="86.85" y="241.95" width="1.1" height="1.1"/>
<rect x="88.85" y="241.95" width="1.1" height="1.1"/>
<rect x="92.85" y="241.95" width="1.1" height="1.1"/>
<rect x="96.60" y="241.95" width="1.8" height="1.1"/>
<rect x="99.95" y="241.95" width="1.1" height="1.1"/>
<rect x="101.95" y="241.95" width="1.1" height="1.1"/>
<rect x="104.05" y="241.95" width="1.1" height="1.1"/>
<rect x="82.85" y="244.85" width="1.1" height="1.1"/>
<rect x="84.85" y="244.85" width="1.1" height="1.1"/>
<rect x="86.85" y="244.85" width="1.1" height="1.1"/>
<rect x="88.85" y="244.85" width="1.1" height="1.1"/>
<rect x="92.85" y="244.85" width="1.1" height="1.1"/>
<rect x="96.60" y="244.85" width="1.8" height="1.1"/>
<rect x="99.95" y="244.85" width="1.1" height="1.1"/>
<rect x="101.95" y="244.85" width="1.1" height="1.1"/>
<rect x="104.05" y="244.85" width="1.1" height="1.1"/>
<rect x="82.85" y="247.95" width="1.1" height="1.1"/>
<rect x="84.85" y="247.95" width="1.1" height="1.1"/>
<rect x="86.85" y="247.95" width="1.1" height="1.1"/>
<rect x="88.85" y="247.95" width="1.1" height="1.1"/>
<rect x="92.85" y="247.95" width="1.1" height="1.1"/>
<rect x="96.60" y="247.95" width="1.8" height="1.1"/>
<rect x="99.95" y="247.95" width="1.1" height="1.1"/>
<rect x="101.95" y="247.95" width="1.1" height="1.1"/>
<rect x="104.05" y="247.95" width="1.1" height="1.1"/>
<rect x="84.85" y="250.10" width="1.1" height="2.2"/>
<rect x="86.85" y="250.10" width="1.1" height="2.2"/>
<rect x="88.85" y="250.10" width="1.1" height="2.2"/>
<rect x="92.85" y="250.10" width="1.1" height="2.2"/>
<rect x="96.60" y="250.10" width="1.8" height="2.2"/>
<rect x="99.95" y="250.10" width="1.1" height="2.2"/>
<rect x="101.95" y="250.10" width="1.1" height="2.2"/>
<rect x="104.05" y="250.10" width="1.1" height="2.2"/>
<rect x="84.85" y="252.80" width="1.1" height="2.2"/>
<rect x="86.85" y="252.80" width="1.1" height="2.2"/>
<rect x="88.85" y="252.80" width="1.1" height="2.2"/>
<rect x="92.85" y="252.80" width="1.1" height="2.2"/>
<rect x="96.60" y="252.80" width="1.8" height="2.2"/>
<rect x="99.95" y="252.80" width="1.1" height="2.2"/>
<rect x="101.95" y="252.80" width="1.1" height="2.2"/>
<rect x="104.05" y="252.80" width="1.1" height="2.2"/>
<rect x="86.85" y="255.70" width="1.1" height="2.2"/>
<rect x="88.85" y="255.70" width="1.1" height="2.2"/>
<rect x="92.85" y="255.70" width="1.1" height="2.2"/>
<rect x="96.60" y="255.70" width="1.8" height="2.2"/>
<rect x="99.95" y="255.70" width="1.1" height="2.2"/>
<rect x="101.95" y="255.70" width="1.1" height="2.2"/>
<rect x="88.85" y="258.70" width="1.1" height="2.2"/>
<rect x="92.85" y="258.70" width="1.1" height="2.2"/>
<rect x="96.60" y="258.70" width="1.8" height="2.2"/>
<rect x="99.95" y="258.70" width="1.1" height="2.2"/>
<rect x="92.85" y="261.50" width="1.1" height="2.2"/>
</g>
<text x="75.9" y="214.8" font-size="10" fill="#FFFFFF" textLength="20.2" lengthAdjust="spacingAndGlyphs" font-weight="bold" >MQ-2</text>
<text x="98.8" y="212.1" font-size="4.4" fill="#FFFFFF" textLength="13.5" lengthAdjust="spacingAndGlyphs" font-weight="bold" >Testo</text>
<text x="0" y="0" font-size="5" fill="#FFF" fill-opacity="0.9" font-weight="bold" textLength="85" lengthAdjust="spacing" transform="translate(73.4,292) rotate(-90)">www.TheEngineeringProjects.com</text>
<text x="79.8" y="285.2" font-size="5.6" fill="#FFFFFF" textLength="6" lengthAdjust="spacingAndGlyphs" >VCC</text>
<text x="89.1" y="285.2" font-size="5.6" fill="#FFFFFF" textLength="7.6" lengthAdjust="spacingAndGlyphs" >OUT</text>
<text x="100.4" y="285.2" font-size="5.6" fill="#FFFFFF" textLength="9.8" lengthAdjust="spacingAndGlyphs" >GND</text>
<path d="M81.5,289.6 H84.2 L86,291.7 L84.2,293.9 H81.5 Z" fill="#BEBEBE"/>
<path d="M92.3,289.6 H94.6 L96.4,291.7 L94.6,293.9 H92.3 Z" fill="#BEBEBE"/>
<rect x="103.2" y="289.6" width="2.7" height="4.3" fill="#BEBEBE" />
<circle cx="116.7" cy="210.5" r="1.8" fill="#BEBEBE"/>
<line x1="118.5" y1="210.5" x2="123" y2="210.5" stroke="#800000" stroke-width="1.2" stroke-linecap="butt"/>
<rect x="122.1" y="205.0" width="2.6" height="3.6" fill="#3030FF" />
<line x1="83.5" y1="294" x2="83.5" y2="310" stroke="#800000" stroke-width="1.3" stroke-linecap="butt"/>
<line x1="93.5" y1="294" x2="93.5" y2="310.3" stroke="#800000" stroke-width="1.3" stroke-linecap="butt"/>
<line x1="104.5" y1="294" x2="104.5" y2="316" stroke="#800000" stroke-width="1.3" stroke-linecap="butt"/>
<rect x="79.0" y="300.2" width="2.8" height="3.6" fill="#FF2020" />
<rect x="89.8" y="300.2" width="2.4" height="3.6" fill="#3030FF" />
<rect x="100.1" y="300.2" width="2.8" height="3.6" fill="#3030FF" />
<path d="M99.6,133.8 H106.3 L111.7,141.4 L106.3,149.7 H99.6 Q96.9,149.7 96.9,147 V136.5 Q96.9,133.8 99.6,133.8 Z" fill="#0000C8"/>
<ellipse cx="103" cy="141.9" rx="1.9" ry="3.3" fill="none" stroke="#C8C8E8" stroke-width="1"/>
<line x1="111.7" y1="141.5" x2="122" y2="141.5" stroke="#800000" stroke-width="1.2" stroke-linecap="butt"/>
<ellipse cx="111.2" cy="134.7" rx="1.7" ry="2.6" fill="none" stroke="#FF0000" stroke-width="1.4"/>
<rect x="114.9" y="136.0" width="2.2" height="3.6" fill="#3030FF" />
<line x1="127.0" y1="339" x2="127.0" y2="346.4" stroke="#800000" stroke-width="2" stroke-linecap="butt"/>
<line x1="127.0" y1="376" x2="127.0" y2="382.7" stroke="#800000" stroke-width="2" stroke-linecap="butt"/>
<rect x="123.0" y="337.2" width="2.8" height="3.6" fill="#3030FF" />
<rect x="127.9" y="380.3" width="2.8" height="3.6" fill="#3030FF" />
<ellipse cx="127" cy="361.3" rx="10.7" ry="14.8" fill="#CDCCAA" stroke="#800000" stroke-width="1.4"/>
<rect x="118.9" y="356" width="15.9" height="6.8" fill="#003800" />
<rect x="119" y="356" width="1.6" height="6.8" fill="#00FF00" />
<text x="121.5" y="361.8" font-size="5.6" fill="#00FF00" textLength="10.5" lengthAdjust="spacingAndGlyphs" >000</text>
<text x="122.9" y="370" font-size="4.5" fill="#400000" textLength="8.9" lengthAdjust="spacingAndGlyphs" font-weight="bold" >LDR</text>
<line x1="164.5" y1="346" x2="164.5" y2="354.2" stroke="#800000" stroke-width="1.2" stroke-linecap="butt"/>
<line x1="164.5" y1="376.2" x2="164.5" y2="384.4" stroke="#800000" stroke-width="1.2" stroke-linecap="butt"/>
<rect x="162.1" y="354.2" width="4.8" height="22" fill="#CDCCAA" stroke="#800000" stroke-width="1.1" />
<text x="168.9" y="361.2" font-size="7.6" fill="#000" textLength="7.8" lengthAdjust="spacingAndGlyphs" font-weight="bold" >R2</text>
<text x="168.9" y="370.2" font-size="6.2" fill="#000" textLength="6.4" lengthAdjust="spacingAndGlyphs" font-weight="bold" >10k</text>
<line x1="180.0" y1="346" x2="180.0" y2="354.2" stroke="#800000" stroke-width="2" stroke-linecap="butt"/>
<line x1="180.0" y1="376.2" x2="180.0" y2="384.4" stroke="#800000" stroke-width="2" stroke-linecap="butt"/>
<rect x="177.4" y="354.2" width="4.8" height="22" fill="#CDCCAA" stroke="#800000" stroke-width="1.1" />
<text x="184.2" y="361.2" font-size="7.6" fill="#000" textLength="7.8" lengthAdjust="spacingAndGlyphs" font-weight="bold" >R3</text>
<text x="184.2" y="370.2" font-size="6.2" fill="#000" textLength="6.4" lengthAdjust="spacingAndGlyphs" font-weight="bold" >10k</text>
<rect x="160.0" y="345.1" width="2.8" height="3.6" fill="#FF2020" />
<rect x="175.9" y="345.1" width="2.8" height="3.6" fill="#FF2020" />
<line x1="370.6" y1="427" x2="375.2" y2="427" stroke="#800000" stroke-width="1.6" stroke-linecap="butt"/>
<line x1="391.7" y1="427" x2="396.8" y2="427" stroke="#800000" stroke-width="1.6" stroke-linecap="butt"/>
<rect x="375.2" y="423.8" width="16.5" height="6.4" fill="#CDCCAA" stroke="#800000" stroke-width="1.4" />
<text x="374.8" y="421.7" font-size="9" fill="#000" textLength="7.3" lengthAdjust="spacingAndGlyphs" font-weight="bold" >R1</text>
<text x="375.5" y="435.7" font-size="7" fill="#000" textLength="6.6" lengthAdjust="spacingAndGlyphs" font-weight="bold" >1k</text>
<rect x="368.9" y="422.0" width="1.6" height="2.6" fill="#3030FF" />
<ellipse cx="153.6" cy="412.2" rx="6.9" ry="9.3" fill="#000" stroke="#800000" stroke-width="1.3"/>
<line x1="153.5" y1="397.8" x2="153.5" y2="426.6" stroke="#800000" stroke-width="1.2" stroke-linecap="butt"/>
<line x1="149.9" y1="410.5" x2="157.1" y2="410.5" stroke="#800000" stroke-width="1.1" stroke-linecap="butt"/>
<line x1="151.0" y1="416.5" x2="156.1" y2="416.5" stroke="#800000" stroke-width="1.1" stroke-linecap="butt"/>
<rect x="151.0" y="411.9" width="1" height="1" fill="#800000" />
<rect x="155.1" y="411.9" width="1" height="1" fill="#800000" />
<rect x="152.6" y="413.8" width="1" height="1" fill="#800000" />
<ellipse cx="196.1" cy="412.2" rx="6.9" ry="9.3" fill="#000" stroke="#800000" stroke-width="1.3"/>
<line x1="196.5" y1="397.8" x2="196.5" y2="426.6" stroke="#800000" stroke-width="1.2" stroke-linecap="butt"/>
<line x1="192.4" y1="410.5" x2="199.6" y2="410.5" stroke="#800000" stroke-width="1.1" stroke-linecap="butt"/>
<line x1="193.5" y1="416.5" x2="198.6" y2="416.5" stroke="#800000" stroke-width="1.1" stroke-linecap="butt"/>
<rect x="193.5" y="411.9" width="1" height="1" fill="#800000" />
<rect x="197.6" y="411.9" width="1" height="1" fill="#800000" />
<rect x="195.1" y="413.8" width="1" height="1" fill="#800000" />
<rect x="155.0" y="425.0" width="3" height="3.8" fill="#3030FF" />
<rect x="197.0" y="425.0" width="3" height="3.8" fill="#3030FF" />
<text x="163.9" y="420" font-size="7.4" fill="#000" textLength="24.4" lengthAdjust="spacingAndGlyphs" font-weight="bold" >LED-GREEN</text>
<text x="205" y="410.9" font-size="8.2" fill="#000" textLength="8.3" lengthAdjust="spacingAndGlyphs" font-weight="bold" >D2</text>
<text x="205" y="420" font-size="7.4" fill="#000" textLength="18.3" lengthAdjust="spacingAndGlyphs" font-weight="bold" >LED-RED</text>
<line x1="439.3" y1="376.0" x2="445" y2="376.0" stroke="#800000" stroke-width="2" stroke-linecap="butt"/>
<line x1="439.6" y1="391.0" x2="445" y2="391.0" stroke="#800000" stroke-width="2" stroke-linecap="butt"/>
<path d="M445.5,376.4 L452,372.2 V394.3 L445.5,390.7 Q444,383.5 445.5,376.4 Z" fill="#CFCBB3" stroke="#800000" stroke-width="1.3"/>
<text x="443.6" y="369.7" font-size="8.4" fill="#000" textLength="15.7" lengthAdjust="spacingAndGlyphs" font-weight="bold" >BUZ1</text>
<text x="450" y="399.7" font-size="4.6" fill="#000" textLength="11.4" lengthAdjust="spacingAndGlyphs" font-weight="bold" >BUZZER</text>
<rect x="438.5" y="371.1" width="1.6" height="3" fill="#3030FF" />
<rect x="438.5" y="384.9" width="1.6" height="3" fill="#3030FF" />
<line x1="487.1" y1="391.0" x2="492.1" y2="391.0" stroke="#800000" stroke-width="2" stroke-linecap="butt"/>
<rect x="492.1" y="379.3" width="2.5" height="22.1" fill="#CDCCAA" stroke="#800000" stroke-width="1.1" />
<line x1="494.6" y1="386.4" x2="502.9" y2="376.4" stroke="#800000" stroke-width="1.3" stroke-linecap="butt"/>
<line x1="502.5" y1="376.4" x2="502.5" y2="367.9" stroke="#800000" stroke-width="1.3" stroke-linecap="butt"/>
<line x1="494.6" y1="395" x2="502.4" y2="403.5" stroke="#800000" stroke-width="1.3" stroke-linecap="butt"/>
<line x1="502.5" y1="403" x2="502.5" y2="412.1" stroke="#800000" stroke-width="1.3" stroke-linecap="butt"/>
<path d="M497.6,400.5 L502.2,402.8 L500.5,397.8 Z" fill="none" stroke="#800000" stroke-width="1"/>
<text x="505" y="383.4" font-size="7" fill="#000" textLength="8.6" lengthAdjust="spacingAndGlyphs" font-weight="bold" >Q1</text>
<text x="505.7" y="392.1" font-size="5.8" fill="#000" textLength="12.2" lengthAdjust="spacingAndGlyphs" font-weight="bold" >BC548</text>
<rect x="498.2" y="410.6" width="2.8" height="3.6" fill="#3030FF" />
<path d="M508.3,302.8 H515 A3.7,3.7 0 0 1 515,310.1 A3.7,3.7 0 0 1 515,317.3 A3.6,3.6 0 0 1 515,324.4 H508.3" fill="none" stroke="#800000" stroke-width="1.4"/>
<line x1="521.5" y1="299" x2="521.5" y2="329" stroke="#800000" stroke-width="1.1" stroke-linecap="butt"/>
<line x1="523.5" y1="299" x2="523.5" y2="329" stroke="#800000" stroke-width="1.1" stroke-linecap="butt"/>
<path d="M529,288 V301 Q529,302.5 530.5,301.5" fill="none" stroke="#800000" stroke-width="2"/>
<line x1="539.5" y1="288" x2="539.5" y2="301" stroke="#800000" stroke-width="1.2" stroke-linecap="butt"/>
<rect x="538.2" y="299.5" width="2.4" height="2.4" fill="#800000" />
<line x1="539.4" y1="301.7" x2="534.6" y2="324" stroke="#10C8D0" stroke-width="1.3" stroke-linecap="butt"/>
<circle cx="534.4" cy="325.1" r="1.2" fill="none" stroke="#800000" stroke-width="1"/>
<line x1="534.5" y1="326.3" x2="534.5" y2="339.4" stroke="#800000" stroke-width="1.3" stroke-linecap="butt"/>
<text x="543.9" y="302.8" font-size="8.4" fill="#000" textLength="10.5" lengthAdjust="spacingAndGlyphs" font-weight="bold" >RL1</text>
<text x="545" y="310.6" font-size="5.4" fill="#000" textLength="6.1" lengthAdjust="spacingAndGlyphs" font-weight="bold" >12V</text>
<line x1="550.5" y1="383" x2="550.5" y2="390" stroke="#800000" stroke-width="1.3" stroke-linecap="butt"/>
<line x1="550.5" y1="420.7" x2="550.5" y2="427.7" stroke="#800000" stroke-width="1.3" stroke-linecap="butt"/>
<ellipse cx="550.6" cy="405.3" rx="10.8" ry="15" fill="#000" stroke="#800000" stroke-width="1.3"/>
<path d="M545.5,400.8 Q550.5,393.5 555.8,400.8" fill="none" stroke="#10C8D0" stroke-width="3.3"/>
<path d="M545.5,410 Q550.5,417.2 555.8,410" fill="none" stroke="#10C8D0" stroke-width="3.3"/>
<ellipse cx="550.4" cy="404.8" rx="2.4" ry="4" fill="#D5D1BC" stroke="#800000" stroke-width="1.2"/>
<rect x="550.8" y="424.8" width="3" height="3.8" fill="#3030FF" />
</g></svg>
</body></html>
